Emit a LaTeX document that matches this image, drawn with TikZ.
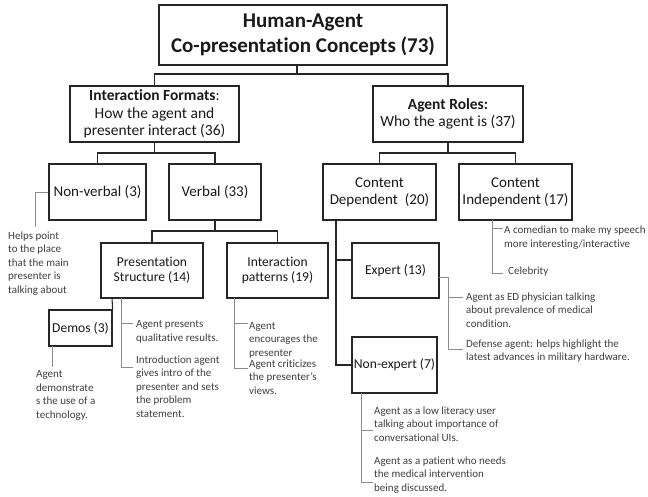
\documentclass[tikz,border=0pt]{standalone}
\usepackage{fontspec}
\setmainfont{Carlito}[Ligatures=NoCommon]
\definecolor{boxline}{HTML}{262626}
\definecolor{boxtext}{HTML}{1A1A1A}
\definecolor{anntext}{HTML}{404040}
\definecolor{annline}{HTML}{8C8C8C}
\tikzset{
  box/.style={draw=boxline, line width=1.2pt, rectangle, inner sep=0pt, align=center, text=boxtext},
  fTitle/.style={font=\fontsize{21}{25}\selectfont\bfseries},
  fOne/.style={font=\fontsize{15.5}{17.5}\selectfont},
  fTwo/.style={font=\fontsize{15}{17}\selectfont},
  fThree/.style={font=\fontsize{13.6}{15.5}\selectfont},
  conn/.style={draw=boxline, line width=1.1pt},
  ann/.style={draw=annline, line width=0.9pt},
  anntxt/.style={anchor=north west, inner sep=0pt, align=left, text=anntext, font=\fontsize{11}{13.5}\selectfont}
}
\begin{document}
\begin{tikzpicture}[x=1pt,y=-1pt]
\useasboundingbox (0,0) rectangle (648,497);
\fill[white] (0,0) rectangle (648,497);

% boxes
\node[box, fTitle, minimum width=288pt, minimum height=60pt] (title) at (303,35) {Human-Agent\\Co-presentation Concepts (73)};
\node[box, fOne, minimum width=169pt, minimum height=56pt] (if) at (154.5,114) {\textbf{Interaction Formats}:\\How the agent and\\presenter interact (36)};
\node[box, fOne, minimum width=150pt, minimum height=56pt] (ar) at (448,114) {\textbf{Agent Roles:}\\Who the agent is (37)};
\node[box, fTwo, minimum width=97pt, minimum height=56pt] (nv) at (97.5,192) {Non-verbal (3)};
\node[box, fTwo, minimum width=92pt, minimum height=56pt] (v) at (215,192) {Verbal (33)};
\node[box, fTwo, minimum width=113pt, minimum height=56pt] (cd) at (379.5,192) {Content\\Dependent\hspace{0.25em} (20)};
\node[box, fTwo, minimum width=113pt, minimum height=56pt] (ci) at (515.5,192) {Content\\Independent (17)};
\node[box, fThree, minimum width=102pt, minimum height=55pt] (ps) at (152,270.5) {Presentation\\Structure (14)};
\node[box, fThree, minimum width=101pt, minimum height=55pt] (ip) at (277.5,270.5) {Interaction\\patterns (19)};
\node[box, fThree, minimum width=63pt, minimum height=36pt] (dm) at (80.5,328) {Demos (3)};
\node[box, fThree, minimum width=87pt, minimum height=55pt] (ex) at (395.5,270.5) {Expert (13)};
\node[box, fThree, minimum width=85pt, minimum height=56pt] (ne) at (394.5,365) {Non-expert (7)};

% tree connectors
\coordinate (t1) at (297,74);
\coordinate (t1s) at (297,65);
\draw[conn] (t1s) -- (t1);
\draw[conn] (if.north) |- (t1) -| (ar.north);
\coordinate (t2) at (154.5,153);
\draw[conn] (if.south) -- (t2);
\draw[conn] (nv.north) |- (t2) -| (v.north);
\coordinate (t3) at (448,153);
\draw[conn] (ar.south) -- (t3);
\draw[conn] (cd.north) |- (t3) -| (ci.north);
\coordinate (t4) at (215,231);
\draw[conn] (v.south) -- (t4);
\draw[conn] (ps.north) |- (t4) -| (ip.north);
\coordinate (cds) at (336,220);
\coordinate (cdb) at (336,260);
\coordinate (cdn) at (336,365);
\coordinate (exw) at (352,260);
\draw[conn] (cds) -- (cdn) -- (ne.west);
\draw[conn] (cdb) -- (exw);
\coordinate (dmt) at (112,298);
\draw[conn] (dm.north east) -- (dmt);

% annotation texts
\node[anntxt] (nvt) at (8,231.5) {Helps point\\to the place\\that the main\\presenter is\\talking about};
\node[anntxt] (ps1) at (136,320.5) {Agent presents\\qualitative results.};
\node[anntxt] (ps2) at (136,355.5) {Introduction agent\\gives intro of the\\presenter and sets\\the problem\\statement.};
\node[anntxt] (ip1) at (249,322) {Agent\\encourages the\\presenter};
\node[anntxt] (ip2) at (249,359.5) {Agent criticizes\\the presenter’s\\views.};
\node[anntxt] (dmx) at (36,370.5) {Agent\\demonstrate\\s the use of a\\technology.};
\node[anntxt] (ci1) at (504,226) {A comedian to make my speech\\more interesting/interactive};
\node[anntxt] (ci2) at (508,266.5) {Celebrity};
\node[anntxt] (ex1) at (466,292.5) {Agent as ED physician talking\\about prevalence of medical\\condition.};
\node[anntxt] (ex2) at (466,339.5) {Defense agent: helps highlight the\\latest advances in military hardware.};
\node[anntxt] (ne1) at (374,406.5) {Agent as a low literacy user\\talking about importance of\\conversational UIs.};
\node[anntxt] (ne2) at (374,456.5) {Agent as a patient who needs\\the medical intervention\\being discussed.};

% annotation connectors
\coordinate (nva) at (35,227);
\draw[ann] (nv.west) -| (nva);

\coordinate (psa) at (121,298);
\coordinate (psb) at (121,323);
\coordinate (ps1a) at (133,323);
\coordinate (ps2a) at (133,367);
\draw[ann] (psa) |- (ps2a);
\draw[ann] (psb) -- (ps1a);

\coordinate (ipa) at (234,298);
\coordinate (ipb) at (234,323);
\coordinate (ip1a) at (248,323);
\coordinate (ip2a) at (248,368);
\draw[ann] (ipa) |- (ip2a);
\draw[ann] (ipb) -- (ip1a);

\coordinate (dma) at (52,346);
\coordinate (dmb) at (52,367);
\draw[ann] (dma) -- (dmb);

\coordinate (cia) at (492,220);
\coordinate (cib) at (492,228);
\coordinate (ci1a) at (503,228);
\coordinate (ci2a) at (503,273);
\draw[ann] (cia) |- (ci2a);
\draw[ann] (cib) -- (ci1a);

\coordinate (exa) at (439,277);
\coordinate (exk) at (448,277);
\coordinate (exb) at (448,297);
\coordinate (ex1a) at (463,297);
\coordinate (ex2a) at (463,349);
\draw[ann] (exa) -- (exk) |- (ex2a);
\draw[ann] (exb) -- (ex1a);

\coordinate (nea) at (361,393);
\coordinate (neb) at (361,430);
\coordinate (ne1a) at (373,430);
\coordinate (ne2a) at (373,482);
\draw[ann] (nea) |- (ne2a);
\draw[ann] (neb) -- (ne1a);
\end{tikzpicture}
\end{document}
